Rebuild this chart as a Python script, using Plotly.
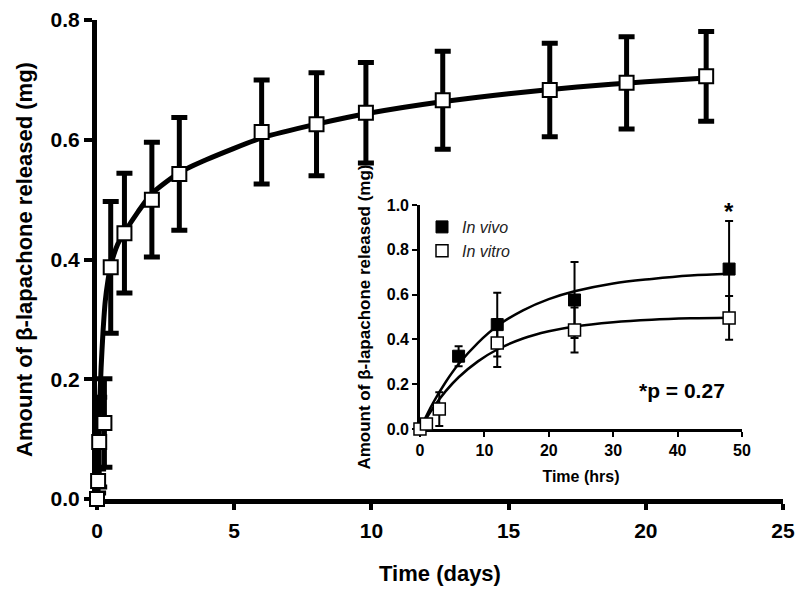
import plotly.graph_objects as go

# ---------------- main chart data (days) ----------------
main_days = [0, 0.04, 0.08, 0.27, 0.5, 1, 2, 3, 6, 8, 9.8, 12.6, 16.5, 19.3, 22.2]
main_release = [0.0, 0.03, 0.095, 0.127, 0.387, 0.444, 0.50, 0.543, 0.613, 0.626, 0.645, 0.666, 0.683, 0.695, 0.706]
main_err = [0.005, 0.02, 0.075, 0.074, 0.11, 0.10, 0.096, 0.094, 0.087, 0.086, 0.084, 0.082, 0.078, 0.077, 0.075]

# fitted curve
fit_days = [0, 0.05, 0.1, 0.15, 0.22, 0.3, 0.4, 0.5, 0.75, 1, 1.5, 2, 3, 4, 6, 8, 10, 12.5, 15, 17.5, 20, 22.2]
fit_release = [0, 0.08, 0.16, 0.22, 0.28, 0.33, 0.365, 0.39, 0.425, 0.445, 0.48, 0.51, 0.545, 0.567,
               0.603, 0.626, 0.645, 0.663, 0.677, 0.688, 0.697, 0.703]

# ---------------- inset data (hours) ----------------
vitro_hrs = [0, 1, 3, 12, 24, 48]
vitro_rel = [0.0, 0.022, 0.089, 0.384, 0.442, 0.496]
vitro_err = [0.0, 0.01, 0.075, 0.107, 0.10, 0.098]

vivo_hrs = [6, 12, 24, 48]
vivo_rel = [0.325, 0.466, 0.576, 0.714]
vivo_err = [0.045, 0.142, 0.17, 0.215]

fit_hrs = [0, 2, 4, 6, 9, 12, 16, 20, 24, 30, 36, 42, 48]
fit_vivo = [0, 0.115, 0.21, 0.29, 0.385, 0.46, 0.53, 0.58, 0.615, 0.65, 0.67, 0.685, 0.693]
fit_vitro = [0, 0.093, 0.169, 0.231, 0.302, 0.355, 0.404, 0.436, 0.458, 0.477, 0.488, 0.494, 0.497]

main_xticks = [0, 5, 10, 15, 20, 25]
main_yticks = [0.0, 0.2, 0.4, 0.6, 0.8]
inset_xticks = [0, 10, 20, 30, 40, 50]
inset_yticks = [0.0, 0.2, 0.4, 0.6, 0.8, 1.0]

FONT = "Liberation Sans, Arial, sans-serif"
YTITLE = "Amount of β-lapachone released (mg)"

fig = go.Figure()

# main curve
fig.add_trace(go.Scatter(
    x=fit_days, y=fit_release, mode="lines", line=dict(color="black", width=5, shape="spline", smoothing=0.6),
    showlegend=False, hoverinfo="skip", cliponaxis=False, xaxis="x", yaxis="y"))
# main points
fig.add_trace(go.Scatter(
    x=main_days, y=main_release, mode="markers",
    marker=dict(symbol="square", size=14, color="white", line=dict(color="black", width=2)),
    error_y=dict(type="data", array=main_err, visible=True, color="black", thickness=5, width=8),
    showlegend=False, cliponaxis=False, xaxis="x", yaxis="y"))

# inset curves
fig.add_trace(go.Scatter(
    x=fit_hrs, y=fit_vivo, mode="lines", line=dict(color="black", width=2.5, shape="spline"),
    showlegend=False, hoverinfo="skip", cliponaxis=False, xaxis="x2", yaxis="y2"))
fig.add_trace(go.Scatter(
    x=fit_hrs, y=fit_vitro, mode="lines", line=dict(color="black", width=2.5, shape="spline"),
    showlegend=False, hoverinfo="skip", cliponaxis=False, xaxis="x2", yaxis="y2"))
# inset points
fig.add_trace(go.Scatter(
    x=vivo_hrs, y=vivo_rel, mode="markers", name="In vivo",
    marker=dict(symbol="square", size=12, color="black", line=dict(color="black", width=1)),
    error_y=dict(type="data", array=vivo_err, visible=True, color="black", thickness=2, width=4),
    cliponaxis=False, xaxis="x2", yaxis="y2"))
fig.add_trace(go.Scatter(
    x=vitro_hrs, y=vitro_rel, mode="markers", name="In vitro",
    marker=dict(symbol="square", size=12, color="white", line=dict(color="black", width=1.5)),
    error_y=dict(type="data", array=vitro_err, visible=True, color="black", thickness=2, width=4),
    cliponaxis=False, xaxis="x2", yaxis="y2"))

fig.update_layout(
    width=800, height=598,
    margin=dict(l=97, r=17, t=20, b=99, autoexpand=False),
    paper_bgcolor="white", plot_bgcolor="white",
    font=dict(family=FONT, color="black"),
    xaxis=dict(
        domain=[0, 1], range=[0, 25], tickvals=main_xticks, showgrid=False, zeroline=False,
        showline=True, linewidth=5, linecolor="black", ticks="outside", ticklen=6, tickwidth=4,
        tickcolor="black", tickfont=dict(size=21, weight="bold"), layer="below traces",
        ticklabelstandoff=3, ticklabeloverflow="allow",
        title=dict(text="Time (days)", font=dict(size=22, weight="bold"), standoff=26),
        anchor="y", fixedrange=True),
    yaxis=dict(
        domain=[0, 1], range=[0, 0.8], tickvals=main_yticks, tickformat=".1f", showgrid=False,
        zeroline=False, showline=True, linewidth=5, linecolor="black", ticks="outside", ticklen=8,
        tickwidth=4, tickcolor="black", tickfont=dict(size=21, weight="bold"), layer="below traces",
        ticklabeloverflow="allow",
        title=dict(text=YTITLE, font=dict(size=22, weight="bold"), standoff=13),
        anchor="x", fixedrange=True),
    xaxis2=dict(
        domain=[0.4708, 0.9402], range=[0, 50], tickvals=inset_xticks, showgrid=False, zeroline=False,
        showline=True, linewidth=2.5, linecolor="black", ticks="outside", ticklen=5, tickwidth=2,
        tickcolor="black", tickfont=dict(size=16, weight="bold"), layer="below traces",
        title=dict(text="Time (hrs)", font=dict(size=16, weight="bold"), standoff=13),
        anchor="y2", fixedrange=True),
    yaxis2=dict(
        domain=[0.1461, 0.6138], range=[0, 1.0], tickvals=inset_yticks, tickformat=".1f", showgrid=False,
        zeroline=False, showline=True, linewidth=2.5, linecolor="black", ticks="outside", ticklen=5,
        tickwidth=2, tickcolor="black", tickfont=dict(size=16, weight="bold"), layer="below traces",
        title=dict(text=YTITLE, font=dict(size=17, weight="bold"), standoff=12),
        anchor="x2", fixedrange=True),
    legend=dict(
        x=(422 - 97) / 686, y=(499 - 210) / 479, xanchor="left", yanchor="top",
        bgcolor="rgba(0,0,0,0)", font=dict(size=16, style="italic", color="#222"),
        tracegroupgap=0, itemwidth=30),
    annotations=[
        dict(x=48, y=0.97, xref="x2", yref="y2", text="*", showarrow=False,
             font=dict(size=24, weight="bold"), yanchor="middle"),
        dict(x=40.7, y=0.17, xref="x2", yref="y2", text="*p = 0.27", showarrow=False,
             font=dict(size=21, weight="bold"), yanchor="middle"),
    ],
)

fig.write_html("out.html",
               config={"displayModeBar": False, "staticPlot": False},
               post_script="document.body.style.margin='0';document.body.style.overflow='hidden';")
